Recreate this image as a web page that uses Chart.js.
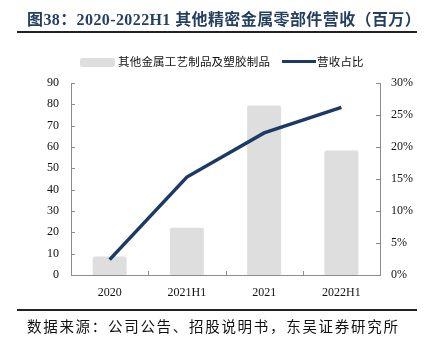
<!DOCTYPE html>
<html>
<head>
<meta charset="utf-8">
<script src="https://cdn.jsdelivr.net/npm/chart.js@4"></script>
<style>
  body { margin: 0; background: #fff; }
  #wrap { position: relative; width: 430px; height: 349px; overflow: hidden; }
  #title {
    position: absolute; left: 27px; top: 6px; white-space: nowrap; letter-spacing: 0.4px;
    font: bold 16px "Liberation Serif", "Noto Sans CJK SC", serif; color: #243f60;
  }
  .rule { position: absolute; left: 17px; width: 400px; height: 2px; background: #222; }
  #source {
    position: absolute; left: 27px; top: 315px; white-space: nowrap; letter-spacing: 1.7px;
    font: 14.5px "Noto Sans CJK SC", sans-serif; color: #111;
  }
  .leg { position: absolute; top: 53px; font: 11.5px "Noto Sans CJK SC", sans-serif; color: #111; white-space: nowrap; letter-spacing: 0.2px; }
  #chartBox { position: absolute; left: 0; top: 0; width: 430px; height: 349px; }
</style>
</head>
<body>
<div id="wrap">
  <div id="chartBox"><canvas id="myChart"></canvas></div>
  <div id="title">图38：2020-2022H1 其他精密金属零部件营收（百万）</div>
  <div class="rule" style="top:31px"></div>
  <div class="leg" style="left:80px"><span style="display:inline-block;width:35px;height:9px;background:#dedede;border-radius:2px;vertical-align:-1px;margin-right:3px"></span>其他金属工艺制品及塑胶制品</div>
  <div class="leg" style="left:282px"><span style="display:inline-block;width:34px;height:3px;background:#1b3a64;vertical-align:3px;margin-right:1px"></span>营收占比</div>
  <div class="rule" style="top:309px"></div>
  <div id="source">数据来源：公司公告、招股说明书，东吴证券研究所</div>
</div>
<script>
// categories and values
const categories = ["2020", "2021H1", "2021", "2022H1"];
const revenue = [8.7, 22.2, 79.4, 58.4];      // 百万
const revenueShare = [2.4, 15.3, 22.2, 26.2]; // %
const leftTicks = [0, 10, 20, 30, 40, 50, 60, 70, 80, 90];
const rightTicks = [0, 5, 10, 15, 20, 25, 30];

const axisColor = "#8c8c8c";
const numFont = { family: "Liberation Serif", size: 12 };

// little inward tick marks like the original
const innerTicks = {
  id: "innerTicks",
  afterDraw(chart) {
    const ctx = chart.ctx;
    const { x, y, y2 } = chart.scales;
    ctx.save();
    ctx.strokeStyle = axisColor;
    ctx.lineWidth = 1;
    ctx.beginPath();
    leftTicks.forEach((v) => {
      const py = Math.round(y.getPixelForValue(v)) + 0.5;
      ctx.moveTo(x.left, py);
      ctx.lineTo(x.left + 4, py);
    });
    rightTicks.forEach((v) => {
      const py = Math.round(y2.getPixelForValue(v)) + 0.5;
      ctx.moveTo(x.right, py);
      ctx.lineTo(x.right - 4, py);
    });
    for (let i = 1; i < categories.length; i++) {
      const px = Math.round((x.getPixelForValue(i - 1) + x.getPixelForValue(i)) / 2) + 0.5;
      ctx.moveTo(px, y.bottom);
      ctx.lineTo(px, y.bottom - 4);
    }
    ctx.stroke();
    ctx.restore();
  },
};

new Chart(document.getElementById("myChart").getContext("2d"), {
  data: {
    labels: categories,
    datasets: [
      {
        type: "line",
        label: "营收占比",
        data: revenueShare,
        yAxisID: "y2",
        borderColor: "#1b3a64",
        borderWidth: 3.5,
        pointRadius: 0,
        tension: 0,
        order: 0,
      },
      {
        type: "bar",
        label: "其他金属工艺制品及塑胶制品",
        data: revenue,
        yAxisID: "y",
        backgroundColor: "#dedede",
        borderRadius: 2,
        barPercentage: 0.44,
        categoryPercentage: 1,
        order: 1,
      },
    ],
  },
  options: {
    responsive: true,
    maintainAspectRatio: false,
    animation: false,
    layout: { padding: { top: 83, left: 0, right: 0, bottom: 0 } },
    plugins: {
      legend: { display: false },
      tooltip: { enabled: false },
    },
    scales: {
      x: {
        grid: { display: false, drawTicks: false },
        border: { display: true, color: axisColor },
        ticks: { color: "#111", font: numFont, padding: 11 },
        afterFit: (s) => { s.height = 74; },
      },
      y: {
        position: "left",
        min: 0,
        max: 90,
        afterBuildTicks: (s) => { s.ticks = leftTicks.map((v) => ({ value: v })); },
        grid: { display: false, drawTicks: false },
        border: { display: true, color: axisColor },
        ticks: { color: "#111", font: numFont, padding: 12 },
        afterFit: (s) => { s.width = 71; },
      },
      y2: {
        position: "right",
        min: 0,
        max: 30,
        afterBuildTicks: (s) => { s.ticks = rightTicks.map((v) => ({ value: v })); },
        grid: { display: false, drawTicks: false },
        border: { display: true, color: axisColor },
        ticks: {
          color: "#111",
          font: numFont,
          padding: 11,
          callback: (v) => v + "%",
        },
        afterFit: (s) => { s.width = 50; },
      },
    },
  },
  plugins: [innerTicks],
});
</script>
</body>
</html>
